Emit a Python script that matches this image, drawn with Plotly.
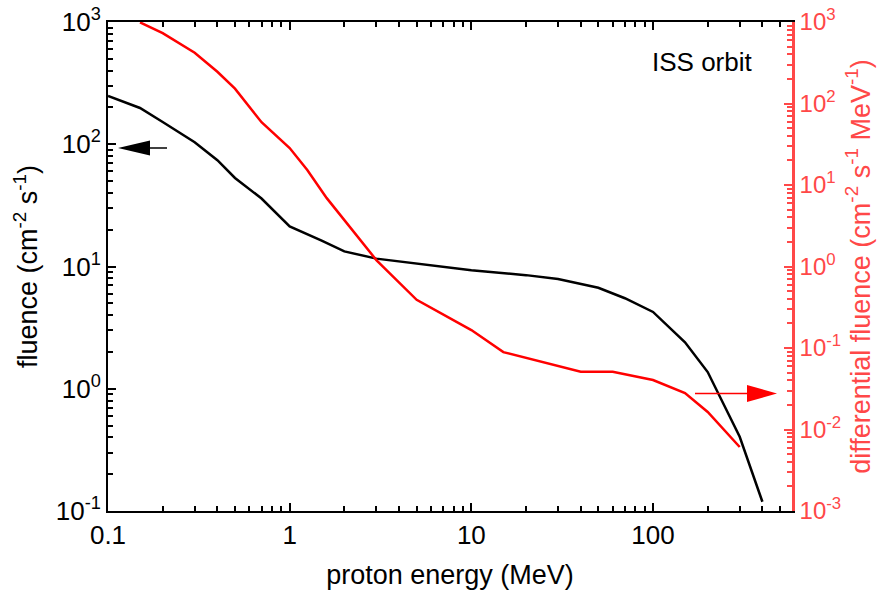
import plotly.graph_objects as go

# ---------------- data ----------------
energy_black = [0.1, 0.15, 0.2, 0.3, 0.4, 0.5, 0.7, 1, 1.5, 2, 3, 5, 10, 20, 30, 50, 70, 100, 150, 200, 300, 400]
fluence_black = [248, 198, 152, 104, 74, 53, 36, 21.3, 16.3, 13.3, 11.6, 10.6, 9.3, 8.5, 7.9, 6.7, 5.5, 4.25, 2.4, 1.37, 0.405, 0.119]

energy_red = [0.15, 0.2, 0.3, 0.4, 0.5, 0.7, 1, 1.25, 1.6, 2, 3, 5, 10, 15, 40, 60, 100, 150, 200, 300]
diff_fluence_red = [990, 730, 420, 245, 152, 59, 28.4, 15.3, 6.9, 3.7, 1.2, 0.39, 0.166, 0.089, 0.051, 0.051, 0.0405, 0.028, 0.0164, 0.0061]

x_tickvals = [0.1, 1, 10, 100]
x_ticktext = ["0.1", "1", "10", "100"]
yl_tickvals = [0.1, 1, 10, 100, 1000]
yl_ticktext = ["10<sup>-1</sup>", "10<sup>0</sup>", "10<sup>1</sup>", "10<sup>2</sup>", "10<sup>3</sup>"]
yr_tickvals = [0.001, 0.01, 0.1, 1, 10, 100, 1000]
yr_ticktext = ["10<sup>-3</sup>", "10<sup>-2</sup>", "10<sup>-1</sup>", "10<sup>0</sup>",
               "10<sup>1</sup>", "10<sup>2</sup>", "10<sup>3</sup>"]


# minor tick positions (2..9 within each decade)
def minor_vals(decades, upper):
    return [m * d for d in decades for m in range(2, 10) if m * d <= upper]


x_minor = minor_vals([0.1, 1, 10, 100], 590)
yl_minor = minor_vals([0.1, 1, 10, 100], 1000)
yr_minor = minor_vals([0.001, 0.01, 0.1, 1, 10, 100], 1000)

X_RANGE = [-1, 2.765]
YL_RANGE = [-1, 3]
YR_RANGE = [-3, 3]

# ---------------- layout geometry ----------------
W, H = 883, 597
L, R, T, B = 108, 91, 22, 86
PW, PH = W - L - R, H - T - B
FONT = "Liberation Sans, Arial, sans-serif"
RED = "#ff0000"
RED_AX = "#ff4848"


def px(xp):
    return (xp - L) / PW


def py(yp):
    return (H - B - yp) / PH


def arrow(tail_x, tip_x, yy, base_x, half_h, color):
    return [
        dict(type="line", xref="paper", yref="paper",
             x0=px(tail_x), y0=py(yy), x1=px(base_x), y1=py(yy),
             line=dict(color=color, width=1.5)),
        dict(type="path", xref="paper", yref="paper",
             path=f"M {px(tip_x)},{py(yy)} L {px(base_x)},{py(yy - half_h)} "
                  f"L {px(base_x)},{py(yy + half_h)} Z",
             fillcolor=color, line=dict(color=color, width=0)),
    ]


def minor_axis(rng, vals, color, **kw):
    d = dict(type="log", range=rng, tickmode="array", tickvals=vals, showticklabels=False,
             ticks="inside", ticklen=5, tickwidth=2, tickcolor=color,
             showline=False, showgrid=False, zeroline=False, automargin=False)
    d.update(kw)
    return d


fig = go.Figure()
fig.add_trace(go.Scatter(x=energy_black, y=fluence_black, mode="lines",
                         line=dict(color="black", width=2.5), xaxis="x", yaxis="y", showlegend=False))
fig.add_trace(go.Scatter(x=energy_red, y=diff_fluence_red, mode="lines",
                         line=dict(color=RED, width=2.5), xaxis="x", yaxis="y2", showlegend=False))
# empty carriers so that the minor-tick axes are drawn
fig.add_trace(go.Scatter(x=[], y=[], xaxis="x2", yaxis="y3", showlegend=False, hoverinfo="skip"))
fig.add_trace(go.Scatter(x=[], y=[], xaxis="x2", yaxis="y4", showlegend=False, hoverinfo="skip"))

shapes = arrow(167, 118, 148, 150, 7.5, "black") + arrow(695, 777, 393.5, 747, 8.5, RED)

fig.update_layout(
    width=W, height=H,
    margin=dict(l=L, r=R, t=T, b=B, pad=0),
    paper_bgcolor="white", plot_bgcolor="white",
    font=dict(family=FONT, size=26, color="black"),
    showlegend=False,
    xaxis=dict(
        type="log", range=X_RANGE,
        tickmode="array", tickvals=x_tickvals, ticktext=x_ticktext,
        ticks="inside", ticklen=8, tickwidth=2, tickcolor="black",
        showline=True, linewidth=2, linecolor="black", mirror="ticks",
        showgrid=False, zeroline=False, automargin=False,
        tickfont=dict(size=26, color="black"),
        title=dict(text="proton energy (MeV)", font=dict(size=27, color="black"), standoff=16),
    ),
    xaxis2=minor_axis(X_RANGE, x_minor, "black", overlaying="x", anchor="y3", side="bottom",
                      mirror="ticks"),
    yaxis=dict(
        type="log", range=YL_RANGE,
        tickmode="array", tickvals=yl_tickvals, ticktext=yl_ticktext,
        ticks="inside", ticklen=8, tickwidth=2, tickcolor="black",
        showline=True, linewidth=2, linecolor="black",
        showgrid=False, zeroline=False, automargin=False,
        tickfont=dict(size=26, color="black"),
        title=dict(text="fluence (cm<sup>-2</sup> s<sup>-1</sup>)", font=dict(size=27, color="black"), standoff=10),
    ),
    yaxis2=dict(
        type="log", range=YR_RANGE, overlaying="y", side="right", anchor="x",
        tickmode="array", tickvals=yr_tickvals, ticktext=yr_ticktext,
        ticks="inside", ticklen=8, tickwidth=2, tickcolor=RED_AX,
        showline=True, linewidth=2.5, linecolor=RED_AX,
        showgrid=False, zeroline=False, automargin=False,
        tickfont=dict(size=24, color=RED_AX),
        title=dict(text="differential fluence (cm<sup>-2</sup> s<sup>-1</sup> MeV<sup>-1</sup>)",
                   font=dict(size=27, color=RED_AX), standoff=10),
    ),
    yaxis3=minor_axis(YL_RANGE, yl_minor, "black", overlaying="y", anchor="x2", side="left"),
    yaxis4=minor_axis(YR_RANGE, yr_minor, RED_AX, overlaying="y", anchor="x2", side="right"),
    shapes=shapes,
    annotations=[dict(text="ISS orbit", xref="paper", yref="paper", x=px(702), y=py(62),
                      xanchor="center", yanchor="middle", showarrow=False,
                      font=dict(size=26, color="black", family=FONT))],
)

fig.write_html("out.html")
